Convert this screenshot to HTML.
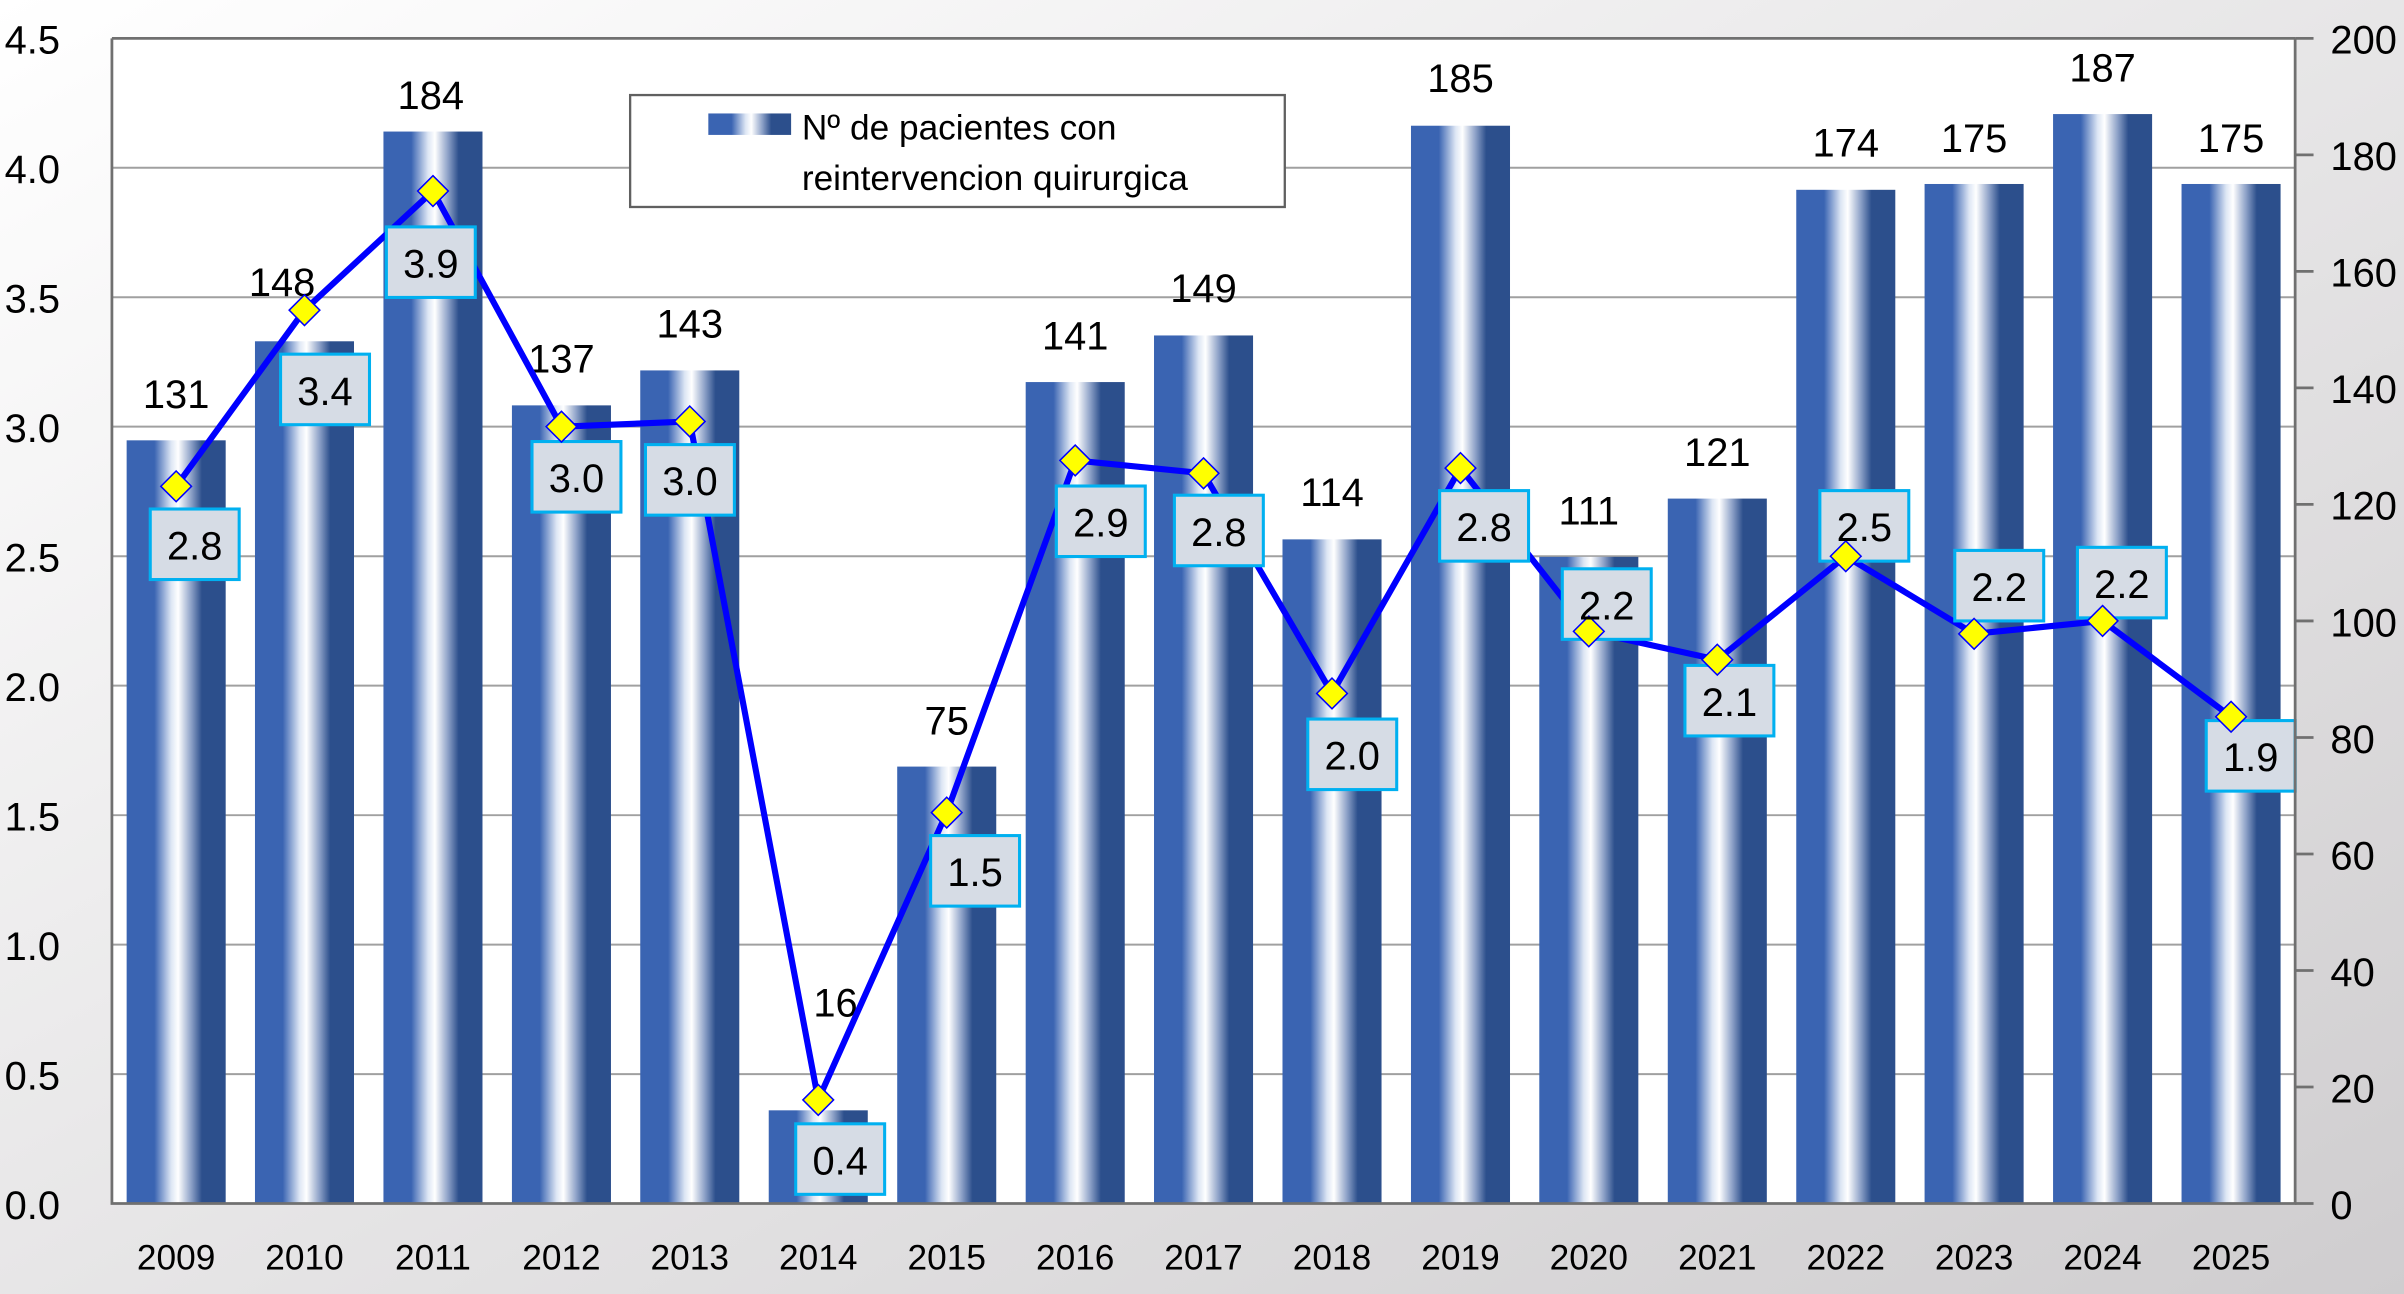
<!DOCTYPE html>
<html><head><meta charset="utf-8"><style>
html,body{margin:0;padding:0;width:2404px;height:1294px;overflow:hidden}
svg{display:block}
text{font-family:"Liberation Sans",sans-serif;fill:#000}
</style></head><body>
<svg width="2404" height="1294" viewBox="0 0 1568 844" preserveAspectRatio="none" xmlns="http://www.w3.org/2000/svg">
<defs>
<linearGradient id="bg" x1="0" y1="0" x2="1" y2="1">
<stop offset="0" stop-color="#ffffff"/><stop offset="1" stop-color="#cfcdcf"/>
</linearGradient>
<linearGradient id="bar" x1="0" y1="0" x2="1" y2="0">
<stop offset="0" stop-color="#3a64b2"/><stop offset="0.28" stop-color="#3a64b2"/>
<stop offset="0.45" stop-color="#dde6f4"/><stop offset="0.52" stop-color="#ffffff"/>
<stop offset="0.65" stop-color="#8ea2c8"/><stop offset="0.76" stop-color="#2c4f8c"/>
<stop offset="1" stop-color="#2c4f8c"/>
</linearGradient>
</defs>
<rect x="0" y="0" width="1568" height="844" fill="url(#bg)"/>
<rect x="73" y="25" width="1424" height="760" fill="#fff"/>
<g stroke="#a0a0a0" stroke-width="1.3">
<line x1="73" x2="1497" y1="700.6" y2="700.6"/><line x1="73" x2="1497" y1="616.1" y2="616.1"/>
<line x1="73" x2="1497" y1="531.7" y2="531.7"/><line x1="73" x2="1497" y1="447.2" y2="447.2"/>
<line x1="73" x2="1497" y1="362.8" y2="362.8"/><line x1="73" x2="1497" y1="278.3" y2="278.3"/>
<line x1="73" x2="1497" y1="193.9" y2="193.9"/><line x1="73" x2="1497" y1="109.4" y2="109.4"/>
</g>
<g fill="url(#bar)">
<rect x="82.6" y="287.2" width="64.6" height="497.8"/>
<rect x="166.3" y="222.6" width="64.6" height="562.4"/>
<rect x="250.1" y="85.8" width="64.6" height="699.2"/>
<rect x="333.9" y="264.4" width="64.6" height="520.6"/>
<rect x="417.6" y="241.6" width="64.6" height="543.4"/>
<rect x="501.4" y="724.2" width="64.6" height="60.8"/>
<rect x="585.2" y="500" width="64.6" height="285"/>
<rect x="669" y="249.2" width="64.6" height="535.8"/>
<rect x="752.7" y="218.8" width="64.6" height="566.2"/>
<rect x="836.5" y="351.8" width="64.6" height="433.2"/>
<rect x="920.3" y="82" width="64.6" height="703"/>
<rect x="1004" y="363.2" width="64.6" height="421.8"/>
<rect x="1087.8" y="325.2" width="64.6" height="459.8"/>
<rect x="1171.6" y="123.8" width="64.6" height="661.2"/>
<rect x="1255.3" y="120" width="64.6" height="665"/>
<rect x="1339.1" y="74.4" width="64.6" height="710.6"/>
<rect x="1422.9" y="120" width="64.6" height="665"/>
</g>
<g font-size="26" text-anchor="middle">
<text x="114.9" y="266">131</text><text x="184" y="193">148</text><text x="281" y="71">184</text>
<text x="366.2" y="243">137</text><text x="449.9" y="220">143</text><text x="545" y="663">16</text>
<text x="617.5" y="479">75</text><text x="701.3" y="228">141</text><text x="785" y="197">149</text>
<text x="868.8" y="330">114</text><text x="952.6" y="60">185</text><text x="1036.3" y="342">111</text>
<text x="1120.1" y="304">121</text><text x="1203.9" y="102">174</text><text x="1287.6" y="99">175</text>
<text x="1371.4" y="53">187</text><text x="1455.2" y="99">175</text>
</g>
<rect x="411" y="62" width="427" height="73" fill="#fff" stroke="#606060" stroke-width="1.5"/>
<rect x="462" y="74" width="54" height="14" fill="url(#bar)"/>
<text x="523" y="91" font-size="23">Nº de pacientes con</text>
<text x="523" y="124" font-size="23">reintervencion quirurgica</text>
<polyline fill="none" stroke="#0000ff" stroke-width="4" stroke-linejoin="round" points="114.9,317.2 198.6,202.3 282.4,124.6 366.2,278.3 449.9,274.9 533.7,717.4 617.5,530 701.3,300.3 785,308.7 868.8,452.3 952.6,305.3 1036.3,411.8 1120.1,430.3 1203.9,362.8 1287.6,413.4 1371.4,405 1455.2,467.5"/>
<g fill="#d6dce5" stroke="#00b0f0" stroke-width="2">
<rect x="98" y="332" width="58" height="46"/><rect x="183" y="231" width="58" height="46"/>
<rect x="252" y="148" width="58" height="46"/><rect x="347" y="288" width="58" height="46"/>
<rect x="421" y="290" width="58" height="46"/><rect x="519" y="733" width="58" height="46"/>
<rect x="607" y="545" width="58" height="46"/><rect x="689" y="317" width="58" height="46"/>
<rect x="766" y="323" width="58" height="46"/><rect x="853" y="469" width="58" height="46"/>
<rect x="939" y="320" width="58" height="46"/><rect x="1019" y="371" width="58" height="46"/>
<rect x="1099" y="434" width="58" height="46"/><rect x="1187" y="320" width="58" height="46"/>
<rect x="1275" y="359" width="58" height="46"/><rect x="1355" y="357" width="58" height="46"/>
<rect x="1439" y="470" width="58" height="46"/>
</g>
<g fill="#ffff00" stroke="#0000ff" stroke-width="1">
<path d="M114.9,307.2l10,10l-10,10l-10,-10z"/><path d="M198.6,192.3l10,10l-10,10l-10,-10z"/>
<path d="M282.4,114.6l10,10l-10,10l-10,-10z"/><path d="M366.2,268.3l10,10l-10,10l-10,-10z"/>
<path d="M449.9,264.9l10,10l-10,10l-10,-10z"/><path d="M533.7,707.4l10,10l-10,10l-10,-10z"/>
<path d="M617.5,520l10,10l-10,10l-10,-10z"/><path d="M701.3,290.3l10,10l-10,10l-10,-10z"/>
<path d="M785,298.7l10,10l-10,10l-10,-10z"/><path d="M868.8,442.3l10,10l-10,10l-10,-10z"/>
<path d="M952.6,295.3l10,10l-10,10l-10,-10z"/><path d="M1036.3,401.8l10,10l-10,10l-10,-10z"/>
<path d="M1120.1,420.3l10,10l-10,10l-10,-10z"/><path d="M1203.9,352.8l10,10l-10,10l-10,-10z"/>
<path d="M1287.6,403.4l10,10l-10,10l-10,-10z"/><path d="M1371.4,395l10,10l-10,10l-10,-10z"/>
<path d="M1455.2,457.5l10,10l-10,10l-10,-10z"/>
</g>
<g font-size="26" text-anchor="middle">
<text x="127" y="365">2.8</text><text x="212" y="264">3.4</text><text x="281" y="181">3.9</text>
<text x="376" y="321">3.0</text><text x="450" y="323">3.0</text><text x="548" y="766">0.4</text>
<text x="636" y="578">1.5</text><text x="718" y="350">2.9</text><text x="795" y="356">2.8</text>
<text x="882" y="502">2.0</text><text x="968" y="353">2.8</text><text x="1048" y="404">2.2</text>
<text x="1128" y="467">2.1</text><text x="1216" y="353">2.5</text><text x="1304" y="392">2.2</text>
<text x="1384" y="390">2.2</text><text x="1468" y="503">1.9</text>
</g>
<g stroke="#707070" stroke-width="1.8" fill="none">
<polyline points="73,25 73,785 1497,785 1497,25"/>
<line x1="73" x2="1497" y1="25" y2="25"/>
<line x1="1497" x2="1509" y1="785" y2="785"/><line x1="1497" x2="1509" y1="709" y2="709"/>
<line x1="1497" x2="1509" y1="633" y2="633"/><line x1="1497" x2="1509" y1="557" y2="557"/>
<line x1="1497" x2="1509" y1="481" y2="481"/><line x1="1497" x2="1509" y1="405" y2="405"/>
<line x1="1497" x2="1509" y1="329" y2="329"/><line x1="1497" x2="1509" y1="253" y2="253"/>
<line x1="1497" x2="1509" y1="177" y2="177"/><line x1="1497" x2="1509" y1="101" y2="101"/>
<line x1="1497" x2="1509" y1="25" y2="25"/>
</g>
<g font-size="26" text-anchor="start">
<text x="3" y="795">0.0</text><text x="3" y="710.6">0.5</text><text x="3" y="626.1">1.0</text>
<text x="3" y="541.7">1.5</text><text x="3" y="457.2">2.0</text><text x="3" y="372.8">2.5</text>
<text x="3" y="288.3">3.0</text><text x="3" y="203.9">3.5</text><text x="3" y="119.4">4.0</text>
<text x="3" y="35">4.5</text>
</g>
<g font-size="26" text-anchor="start">
<text x="1520" y="795">0</text><text x="1520" y="719">20</text><text x="1520" y="643">40</text>
<text x="1520" y="567">60</text><text x="1520" y="491">80</text><text x="1520" y="415">100</text>
<text x="1520" y="339">120</text><text x="1520" y="263">140</text><text x="1520" y="187">160</text>
<text x="1520" y="111">180</text><text x="1520" y="35">200</text>
</g>
<g font-size="23" text-anchor="middle">
<text x="114.9" y="828">2009</text><text x="198.6" y="828">2010</text><text x="282.4" y="828">2011</text>
<text x="366.2" y="828">2012</text><text x="449.9" y="828">2013</text><text x="533.7" y="828">2014</text>
<text x="617.5" y="828">2015</text><text x="701.3" y="828">2016</text><text x="785" y="828">2017</text>
<text x="868.8" y="828">2018</text><text x="952.6" y="828">2019</text><text x="1036.3" y="828">2020</text>
<text x="1120.1" y="828">2021</text><text x="1203.9" y="828">2022</text><text x="1287.6" y="828">2023</text>
<text x="1371.4" y="828">2024</text><text x="1455.2" y="828">2025</text>
</g>
</svg>
</body></html>
